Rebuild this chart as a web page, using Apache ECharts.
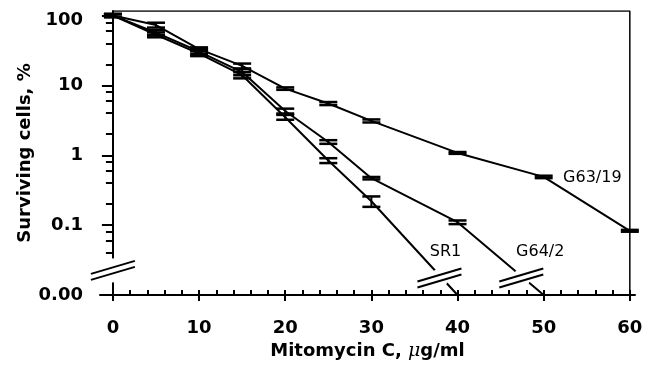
<!DOCTYPE html>
<html>
<head>
<meta charset="utf-8">
<script src="https://cdn.jsdelivr.net/npm/echarts@6/dist/echarts.min.js"></script>
<style>html,body{margin:0;padding:0;background:#fff}#c{width:659px;height:365px}</style>
</head>
<body>
<div id="c"></div>
<script>
// ---- data ----
const seriesNames = ['G63/19', 'G64/2', 'SR1'];
const g63x = [0, 5, 10, 15, 20, 25, 30, 40, 50, 60];
const g63y = [100, 73, 33, 19, 9, 5.5, 3.1, 1.08, 0.49, 0.083];
const g63err = [0.05, 0.08, 0.06, 0.08, 0.04, 0.05, 0.05, 0.03, 0.04, 0.03];
const g64x = [0, 5, 10, 15, 20, 25, 30, 40, 50];
const g64y = [100, 57, 30.5, 15.5, 4.3, 1.55, 0.47, 0.11, 0.01];
const g64err = [0.05, 0.08, 0.08, 0.1, 0.08, 0.06, 0.04, 0.06, 0];
const sr1x = [0, 5, 10, 15, 20, 25, 30, 40];
const sr1y = [100, 53, 28.5, 14, 3.5, 0.84, 0.22, 0.01];
const sr1err = [0.05, 0.08, 0.08, 0.1, 0.08, 0.08, 0.17, 0];

const xMajorTicks = [0, 10, 20, 30, 40, 50, 60];
const xMinorTicks = [0, 2, 4, 6, 8, 10, 12, 14, 16, 18, 20, 22, 24, 26, 28, 30, 32, 34, 36, 38, 40, 42, 44, 46, 48, 50, 52, 54, 56, 58, 60];
const yMajorTicks = [0.01, 0.1, 1, 10, 100];
const yMinorTicks = [0.04, 0.06, 0.08, 0.2, 0.4, 0.6, 0.8, 2, 4, 6, 8, 20, 40, 60, 80];

// axis extents
const xMin = -1.5, xMax = 60.6, xEnd = 60;
const yMin = 0.01, yMax = 116;

// break marks: [x, y, kind] kind 0 = on a data line, kind 1 = on the y axis
const breakMarks = [[37.9, 0.0175, 0], [47.4, 0.0175, 0], [0, 0.0225, 1]];
// curve labels (data coordinates)
const curveLabels = [[55.65, 0.47, 'G63/19'], [49.6, 0.042, 'G64/2'], [38.6, 0.042, 'SR1']];

const FONT = 'DejaVu Sans';
function pts(xs, ys) { return xs.map((x, i) => [x, ys[i]]); }
function errPts(xs, ys, es) { return xs.map((x, i) => [x, ys[i], es[i]]); }

function renderErr(params, api) {
  const x = api.value(0), y = api.value(1), e = api.value(2);
  if (!(e > 0)) return null;
  const hi = api.coord([x, y * (1 + e)]);
  const lo = api.coord([x, y * (1 - e)]);
  const hw = 9;
  const st = { stroke: '#000', lineWidth: 2.5 };
  return {
    type: 'group',
    children: [
      { type: 'line', shape: { x1: hi[0], y1: hi[1], x2: lo[0], y2: lo[1] }, style: { stroke: '#000', lineWidth: 2 } },
      { type: 'line', shape: { x1: hi[0] - hw, y1: hi[1], x2: hi[0] + hw, y2: hi[1] }, style: st },
      { type: 'line', shape: { x1: lo[0] - hw, y1: lo[1], x2: lo[0] + hw, y2: lo[1] }, style: st }
    ]
  };
}

function renderBreak(params, api) {
  const c = api.coord([api.value(0), api.value(1)]);
  const kind = api.value(2);
  const cx = c[0], cy = c[1];
  const eraser = kind === 1
    ? { type: 'rect', shape: { x: cx - 5, y: cy - 12, width: 10, height: 24 }, style: { fill: '#fff' } }
    : { type: 'circle', shape: { cx: cx + 1, cy: cy - 1, r: 9 }, style: { fill: '#fff' } };
  const st = { stroke: '#000', lineWidth: 2 };
  return {
    type: 'group',
    children: [
      eraser,
      { type: 'line', shape: { x1: cx - 22, y1: cy + 3.5, x2: cx + 22, y2: cy - 9.5 }, style: st },
      { type: 'line', shape: { x1: cx - 22, y1: cy + 9.5, x2: cx + 22, y2: cy - 3.5 }, style: st }
    ]
  };
}

function renderLabel(params, api) {
  const c = api.coord([api.value(0), api.value(1)]);
  return {
    type: 'text', x: c[0], y: c[1],
    style: {
      text: curveLabels[params.dataIndex][2], fill: '#000',
      font: '16px "' + FONT + '"', textAlign: 'center', textVerticalAlign: 'middle'
    }
  };
}

const lineStyle = { color: '#000', width: 2 };
const series = [];
[[g63x, g63y, g63err], [g64x, g64y, g64err], [sr1x, sr1y, sr1err]].forEach((s, i) => {
  series.push({
    name: seriesNames[i], type: 'line', data: pts(s[0], s[1]), showSymbol: false, symbol: 'none',
    lineStyle: lineStyle, z: 2, silent: true, animation: false
  });
  series.push({
    type: 'custom', data: errPts(s[0], s[1], s[2]), renderItem: renderErr,
    encode: { x: 0, y: 1 }, z: 3, silent: true, animation: false
  });
});
// frame (top and right)
series.push({
  type: 'line', data: [[0, yMax], [xEnd, yMax], [xEnd, yMin]], symbol: 'none',
  lineStyle: { color: '#000', width: 1.5 }, z: 2, silent: true, animation: false
});
series.push({
  type: 'custom', data: breakMarks, renderItem: renderBreak, encode: { x: 0, y: 1 },
  z: 5, silent: true, animation: false, clip: false
});
series.push({
  type: 'custom', data: curveLabels.map(d => [d[0], d[1]]), renderItem: renderLabel, encode: { x: 0, y: 1 },
  z: 6, silent: true, animation: false
});

const chart = echarts.init(document.getElementById('c'), null, { renderer: 'canvas' });
chart.setOption({
  animation: false,
  backgroundColor: '#fff',
  grid: { left: 100, right: 24, top: 11, bottom: 70, containLabel: false, outerBoundsMode: 'none' },
  xAxis: [{
    type: 'value', min: xMin, max: xMax, position: 'bottom',
    axisLine: { onZero: false, lineStyle: { color: '#000', width: 2 } },
    axisTick: { customValues: xMajorTicks, length: 6, lineStyle: { color: '#000', width: 2 } },
    axisLabel: { customValues: xMajorTicks, margin: 24, color: '#000', fontFamily: FONT, fontWeight: 'bold', fontSize: 18 },
    splitLine: { show: false },
    name: '{b|Mitomycin C, }{m|μ}{b|g/ml}', nameLocation: 'middle', nameGap: 30,
    nameTextStyle: {
      rich: {
        b: { color: '#000', fontFamily: FONT, fontWeight: 'bold', fontSize: 18 },
        m: { color: '#000', fontFamily: 'DejaVu Serif', fontStyle: 'italic', fontSize: 19 }
      }
    }
  }, {
    type: 'value', min: xMin, max: xMax, position: 'bottom',
    axisLine: { show: false, onZero: false },
    axisTick: { customValues: xMinorTicks, inside: true, length: 5, lineStyle: { color: '#000', width: 2 } },
    axisLabel: { show: false },
    splitLine: { show: false }
  }],
  yAxis: [{
    type: 'log', logBase: 10, min: yMin, max: yMax, position: 'left',
    axisLine: { onZero: true, lineStyle: { color: '#000', width: 2 } },
    axisTick: { customValues: yMajorTicks, length: 11, lineStyle: { color: '#000', width: 2 } },
    axisLabel: {
      customValues: yMajorTicks, margin: 17, color: '#000', fontFamily: FONT, fontWeight: 'bold', fontSize: 18,
      formatter: v => {
        if (Math.abs(v - 0.01) < 1e-9) return '0.00';
        if (Math.abs(v - 100) < 1e-6) return '{t|100}';
        return String(+v.toPrecision(3));
      },
      rich: { t: { color: '#000', fontFamily: FONT, fontWeight: 'bold', fontSize: 18, padding: [10, 0, 0, 0] } }
    },
    splitLine: { show: false },
    name: 'Surviving cells, %', nameLocation: 'middle', nameGap: 66, nameMoveOverlap: false,
    nameTextStyle: { color: '#000', fontFamily: FONT, fontWeight: 'bold', fontSize: 18 }
  }, {
    type: 'log', logBase: 10, min: yMin, max: yMax, position: 'left',
    axisLine: { show: false, onZero: true },
    axisTick: { customValues: yMinorTicks, length: 7, lineStyle: { color: '#000', width: 2 } },
    axisLabel: { show: false },
    splitLine: { show: false }
  }],
  series: series
});
</script>
</body>
</html>
